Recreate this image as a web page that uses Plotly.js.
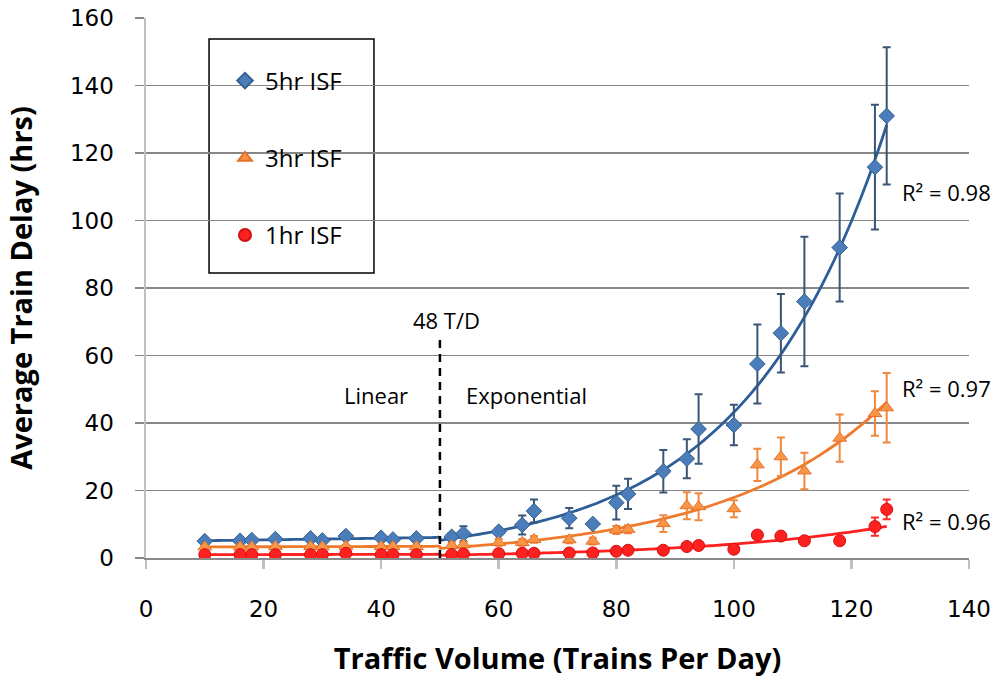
<!DOCTYPE html>
<html>
<head>
<meta charset="utf-8">
<script src="https://cdn.plot.ly/plotly-3.0.1.min.js"></script>
<style>html,body{margin:0;padding:0;background:#fff;}#chart{width:1001px;height:679px;}</style>
</head>
<body>
<div id="chart"></div>
<script>
// Traffic volume (trains per day)
const trafficVolume = [10,16,18,22,28,30,34,40,42,46,52,54,60,64,66,72,76,80,82,88,92,94,100,104,108,112,118,124,126];
// Average train delay (hrs)
const delay5hr = [5.0,5.1,5.3,5.6,5.8,5.2,6.5,6.0,5.5,5.8,6.3,7.2,7.8,9.8,13.9,11.8,10.1,16.4,19.0,25.7,29.4,38.2,39.4,57.5,66.6,76.0,92.0,115.8,131.0];
const err5hr   = [0.3,0.3,0.3,0.3,0.3,0.3,0.3,0.3,0.3,0.3,1.0,2.2,1.0,2.8,3.4,3.0,0.8,5.0,4.5,6.3,5.8,10.3,6.0,11.7,11.6,19.2,16.0,18.5,20.3];
const delay3hr = [3.3,3.3,3.3,3.4,3.4,3.3,3.5,3.4,3.4,3.4,3.7,3.9,4.6,4.6,5.5,5.4,5.0,8.3,8.5,10.2,15.5,15.2,14.6,27.6,30.0,25.8,35.5,42.8,44.5];
const err3hr   = [0.3,0.3,0.3,0.3,0.3,0.3,0.3,0.3,0.3,0.3,0.8,0.8,1.0,1.0,1.0,1.0,1.0,1.2,1.2,2.5,4.0,4.0,2.5,4.8,5.7,5.4,7.0,6.6,10.3];
const delay1hr = [1.0,1.0,1.0,1.0,1.0,1.0,1.4,1.0,1.0,1.0,1.0,1.2,1.3,1.4,1.4,1.5,1.5,2.0,2.3,2.3,3.4,3.7,2.6,6.8,6.5,5.1,5.1,9.3,14.4];
const err1hr   = [0.2,0.2,0.2,0.2,0.2,0.2,0.2,0.2,0.2,0.2,0.3,0.3,0.3,0.3,0.3,0.3,0.3,0.3,0.3,0.4,0.5,0.5,0.5,0.6,0.6,0.6,0.6,2.7,2.9];
const seriesNames = ["5hr ISF","3hr ISF","1hr ISF"];
const rSquared = ["R² = 0.98","R² = 0.97","R² = 0.96"];
const rLabelY = [108.4, 50.4, 11.0];
const thresholdX = 50;        // 48 T/D divider drawn at axis position
const thresholdTop = 65;
const xTicks = [0,20,40,60,80,100,120,140];
const yTicks = [0,20,40,60,80,100,120,140,160];

// --- trendlines fitted from the data (linear below the threshold, exponential above) ---
function linFit(xs, ys){
  const n = xs.length; let sx=0,sy=0,sxx=0,sxy=0;
  for(let i=0;i<n;i++){sx+=xs[i];sy+=ys[i];sxx+=xs[i]*xs[i];sxy+=xs[i]*ys[i];}
  const b=(n*sxy-sx*sy)/(n*sxx-sx*sx); const a=(sy-b*sx)/n; return [a,b];
}
function trend(ys){
  const lx=[],ly=[],ex=[],ey=[];
  trafficVolume.forEach((x,i)=>{ if(x<thresholdX){lx.push(x);ly.push(ys[i]);} else {ex.push(x);ey.push(Math.log(ys[i]));} });
  const [la,lb]=linFit(lx,ly); const [ea,eb]=linFit(ex,ey);
  const tx=[],ty=[];
  const x0=lx[0], xm=thresholdX, x1=ex[ex.length-1];
  for(let x=x0;x<=xm;x+=1){tx.push(x);ty.push(la+lb*x);}
  for(let x=xm;x<=x1+1e-9;x+=1){tx.push(x);ty.push(Math.exp(ea+eb*x));}
  return {x:tx,y:ty};
}

const blue='#4a7dba', blueLine='#2e5e98', blueErr='#3a5575';
const orange='#f79646', orangeLine='#f07a2c', orangeErr='#f0883e';
const red='#ff2020', redLine='#ff2020', redErr='#ff2a2a';
const font='"Open Sans", "Liberation Sans", sans-serif';
const tickFont='"DejaVu Sans", sans-serif';

const t5=trend(delay5hr), t3=trend(delay3hr), t1=trend(delay1hr);
const traces=[
  {x:t5.x,y:t5.y,mode:'lines',line:{color:blueLine,width:2.8,shape:'spline'},showlegend:false,hoverinfo:'skip'},
  {x:t3.x,y:t3.y,mode:'lines',line:{color:orangeLine,width:2.8,shape:'spline'},showlegend:false,hoverinfo:'skip'},
  {x:t1.x,y:t1.y,mode:'lines',line:{color:redLine,width:2.8,shape:'spline'},showlegend:false,hoverinfo:'skip'},
  {x:trafficVolume,y:delay5hr,name:seriesNames[0],legendgroup:'a',mode:'markers',
   marker:{symbol:'diamond',size:12,color:blue,line:{color:'#35608f',width:1}},
   error_y:{type:'data',array:err5hr,visible:true,color:blueErr,thickness:2,width:4}},
  {x:trafficVolume,y:delay3hr,name:seriesNames[1],legendgroup:'b',mode:'markers',
   marker:{symbol:'triangle-up',size:12,color:orange,line:{color:'#e8702a',width:1}},
   error_y:{type:'data',array:err3hr,visible:true,color:orangeErr,thickness:2,width:4}},
  {x:trafficVolume,y:delay1hr,name:seriesNames[2],legendgroup:'c',mode:'markers',
   marker:{symbol:'circle',size:12,color:red,line:{color:'#d01010',width:1}},
   error_y:{type:'data',array:err1hr,visible:true,color:redErr,thickness:2,width:4}},
  {x:[thresholdX,thresholdX],y:[0,thresholdTop],mode:'lines',line:{color:'#000',width:2.5,dash:'8px,6px'},showlegend:false,hoverinfo:'skip'}
];

const annotations=[
  {x:51.1,y:70.6,xref:'x',yref:'y',text:'48 T/D',showarrow:false,font:{family:font,size:22,color:'#000'}},
  {x:39.2,y:48.2,xref:'x',yref:'y',text:'Linear',showarrow:false,font:{family:font,size:22,color:'#000'}},
  {x:64.7,y:48.2,xref:'x',yref:'y',text:'Exponential',showarrow:false,font:{family:font,size:22,color:'#000'}}
];
rSquared.forEach((t,i)=>annotations.push({x:128.3,y:rLabelY[i],xref:'x',yref:'y',xanchor:'left',text:t,showarrow:false,font:{family:font,size:22,color:'#000'}}));

const layout={
  width:1001,height:679,
  margin:{l:146,r:32,t:18,b:121,pad:0},
  paper_bgcolor:'#fff',plot_bgcolor:'#fff',
  font:{family:font,color:'#000'},
  xaxis:{range:[0,140],tickvals:xTicks,showgrid:false,zeroline:false,showline:true,linecolor:'#8a8a8a',linewidth:1.5,
    ticks:'outside',ticklen:9,tickcolor:'#c0c0c0',tickwidth:2.5,tickfont:{family:tickFont,size:23,color:'#000'},ticklabelstandoff:21,
    title:{text:'<b>Traffic Volume (Trains Per Day)</b>',font:{family:font,size:29,color:'#000'},standoff:27},automargin:false},
  yaxis:{range:[0,160],tickvals:yTicks,showgrid:true,gridcolor:'#868686',gridwidth:1.5,zeroline:false,showline:true,linecolor:'#c0c0c0',linewidth:2.5,
    ticks:'outside',ticklen:9,tickcolor:'#868686',tickwidth:1.5,tickfont:{family:tickFont,size:23,color:'#000'},ticklabelstandoff:16,
    title:{text:'<b>Average Train Delay (hrs)</b>',font:{family:font,size:29,color:'#000'},standoff:29},automargin:false},
  showlegend:true,
  legend:{x:0.096,y:0.925,xanchor:'left',yanchor:'top',bgcolor:'rgba(0,0,0,0)',borderwidth:0,
    font:{family:font,size:24,color:'#000'},traceorder:'grouped',tracegroupgap:43,itemsizing:'constant'},
  shapes:[{type:'rect',xref:'paper',yref:'paper',x0:0.0766,x1:0.277,y0:0.528,y1:0.961,line:{color:'#000',width:1.5},fillcolor:'#fff',layer:'between'}],
  annotations:annotations
};
Plotly.newPlot('chart',traces,layout,{displayModeBar:false,staticPlot:true});
</script>
</body>
</html>
